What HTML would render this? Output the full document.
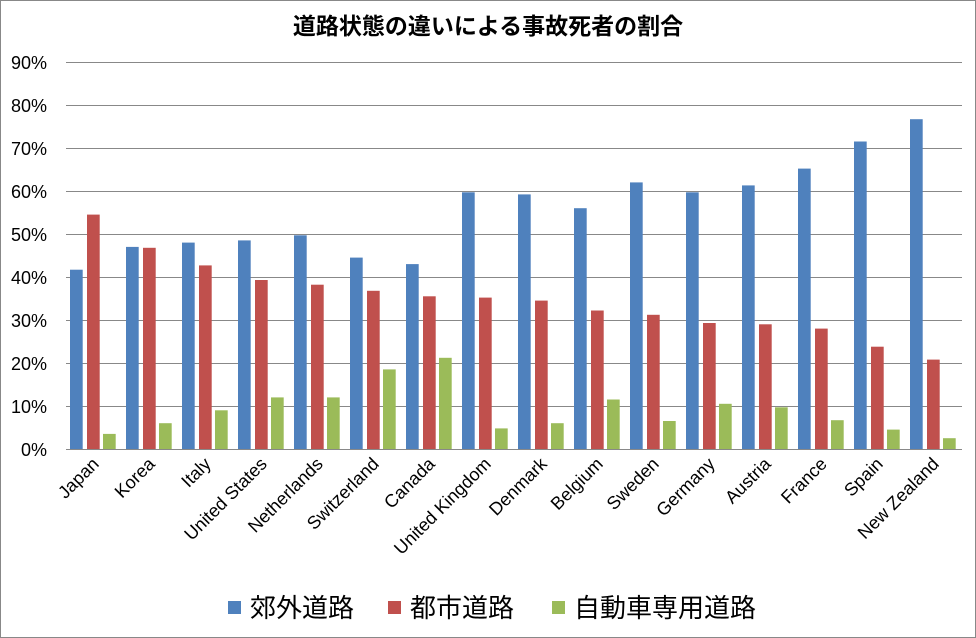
<!DOCTYPE html>
<html><head><meta charset="utf-8"><style>
html,body{margin:0;padding:0;background:#fff}
svg{display:block}
text{font-family:"Liberation Sans","Noto Sans CJK JP",sans-serif;fill:#000}
</style></head><body>
<svg width="976" height="638" viewBox="0 0 976 638" xmlns="http://www.w3.org/2000/svg">
<rect x="0.5" y="0.5" width="975" height="637" fill="#fff" stroke="#888"/>
<text x="488" y="34" font-size="23" font-weight="bold" text-anchor="middle">道路状態の違いによる事故死者の割合</text>
<g stroke="#888" stroke-width="1">
<line x1="66" y1="62.5" x2="962" y2="62.5"/><line x1="66" y1="105.5" x2="962" y2="105.5"/>
<line x1="66" y1="148.5" x2="962" y2="148.5"/><line x1="66" y1="191.5" x2="962" y2="191.5"/>
<line x1="66" y1="234.5" x2="962" y2="234.5"/><line x1="66" y1="277.5" x2="962" y2="277.5"/>
<line x1="66" y1="320.5" x2="962" y2="320.5"/><line x1="66" y1="363.5" x2="962" y2="363.5"/>
<line x1="66" y1="406.5" x2="962" y2="406.5"/><line x1="66" y1="449.5" x2="962" y2="449.5"/>
</g>
<g font-size="18" text-anchor="end">
<text x="47" y="69">90%</text><text x="47" y="112">80%</text><text x="47" y="155">70%</text>
<text x="47" y="198">60%</text><text x="47" y="241">50%</text><text x="47" y="284">40%</text>
<text x="47" y="327">30%</text><text x="47" y="370">20%</text><text x="47" y="413">10%</text>
<text x="47" y="456">0%</text>
</g>
<g fill="#4f81bd">
<rect x="70" y="269.7" width="12.7" height="179.3"/><rect x="126" y="246.9" width="12.7" height="202.1"/>
<rect x="182" y="242.6" width="12.7" height="206.4"/><rect x="238" y="240.4" width="12.7" height="208.6"/>
<rect x="294" y="235.3" width="12.7" height="213.7"/><rect x="350" y="257.6" width="12.7" height="191.4"/>
<rect x="406" y="264.1" width="12.7" height="184.9"/><rect x="462" y="192.3" width="12.7" height="256.7"/>
<rect x="518" y="194.4" width="12.7" height="254.6"/><rect x="574" y="208.2" width="12.7" height="240.8"/>
<rect x="630" y="182.4" width="12.7" height="266.6"/><rect x="686" y="192.3" width="12.7" height="256.7"/>
<rect x="742" y="185.4" width="12.7" height="263.6"/><rect x="798" y="168.6" width="12.7" height="280.4"/>
<rect x="854" y="141.5" width="12.7" height="307.5"/><rect x="910" y="119.2" width="12.7" height="329.8"/>
</g>
<g fill="#c0504d">
<rect x="87" y="214.6" width="12.7" height="234.4"/><rect x="143" y="247.8" width="12.7" height="201.2"/>
<rect x="199" y="265.4" width="12.7" height="183.6"/><rect x="255" y="280" width="12.7" height="169"/>
<rect x="311" y="284.7" width="12.7" height="164.3"/><rect x="367" y="290.8" width="12.7" height="158.2"/>
<rect x="423" y="296.3" width="12.7" height="152.7"/><rect x="479" y="297.6" width="12.7" height="151.4"/>
<rect x="535" y="300.6" width="12.7" height="148.4"/><rect x="591" y="310.5" width="12.7" height="138.5"/>
<rect x="647" y="314.8" width="12.7" height="134.2"/><rect x="703" y="323" width="12.7" height="126"/>
<rect x="759" y="324.3" width="12.7" height="124.7"/><rect x="815" y="328.6" width="12.7" height="120.4"/>
<rect x="871" y="346.7" width="12.7" height="102.3"/><rect x="927" y="359.6" width="12.7" height="89.4"/>
</g>
<g fill="#9bbb59">
<rect x="103" y="433.9" width="12.7" height="15.1"/><rect x="159" y="423.2" width="12.7" height="25.8"/>
<rect x="215" y="410.3" width="12.7" height="38.7"/><rect x="271" y="397.4" width="12.7" height="51.6"/>
<rect x="327" y="397.4" width="12.7" height="51.6"/><rect x="383" y="369.4" width="12.7" height="79.6"/>
<rect x="439" y="357.8" width="12.7" height="91.2"/><rect x="495" y="428.4" width="12.7" height="20.6"/>
<rect x="551" y="423.2" width="12.7" height="25.8"/><rect x="607" y="399.5" width="12.7" height="49.5"/>
<rect x="663" y="421" width="12.7" height="28"/><rect x="719" y="403.8" width="12.7" height="45.2"/>
<rect x="775" y="407.3" width="12.7" height="41.7"/><rect x="831" y="420.2" width="12.7" height="28.8"/>
<rect x="887" y="429.6" width="12.7" height="19.4"/><rect x="943" y="438.2" width="12.7" height="10.8"/>
</g>
<line x1="66" y1="449.5" x2="962" y2="449.5" stroke="#888"/>
<g font-size="18" text-anchor="end">
<text transform="translate(100,465) rotate(-45)">Japan</text>
<text transform="translate(156,465) rotate(-45)">Korea</text>
<text transform="translate(212,465) rotate(-45)">Italy</text>
<text transform="translate(268,465) rotate(-45)">United States</text>
<text transform="translate(324,465) rotate(-45)">Netherlands</text>
<text transform="translate(380,465) rotate(-45)">Switzerland</text>
<text transform="translate(436,465) rotate(-45)">Canada</text>
<text transform="translate(492,465) rotate(-45)">United Kingdom</text>
<text transform="translate(548,465) rotate(-45)">Denmark</text>
<text transform="translate(604,465) rotate(-45)">Belgium</text>
<text transform="translate(660,465) rotate(-45)">Sweden</text>
<text transform="translate(716,465) rotate(-45)">Germany</text>
<text transform="translate(772,465) rotate(-45)">Austria</text>
<text transform="translate(828,465) rotate(-45)">France</text>
<text transform="translate(884,465) rotate(-45)">Spain</text>
<text transform="translate(940,465) rotate(-45)">New Zealand</text>
</g>
<g font-size="26">
<rect x="228" y="601" width="13" height="13" fill="#4f81bd"/><text x="250" y="617">郊外道路</text>
<rect x="388" y="601" width="13" height="13" fill="#c0504d"/><text x="410" y="617">都市道路</text>
<rect x="552" y="601" width="13" height="13" fill="#9bbb59"/><text x="574" y="617">自動車専用道路</text>
</g>
</svg>
</body></html>
